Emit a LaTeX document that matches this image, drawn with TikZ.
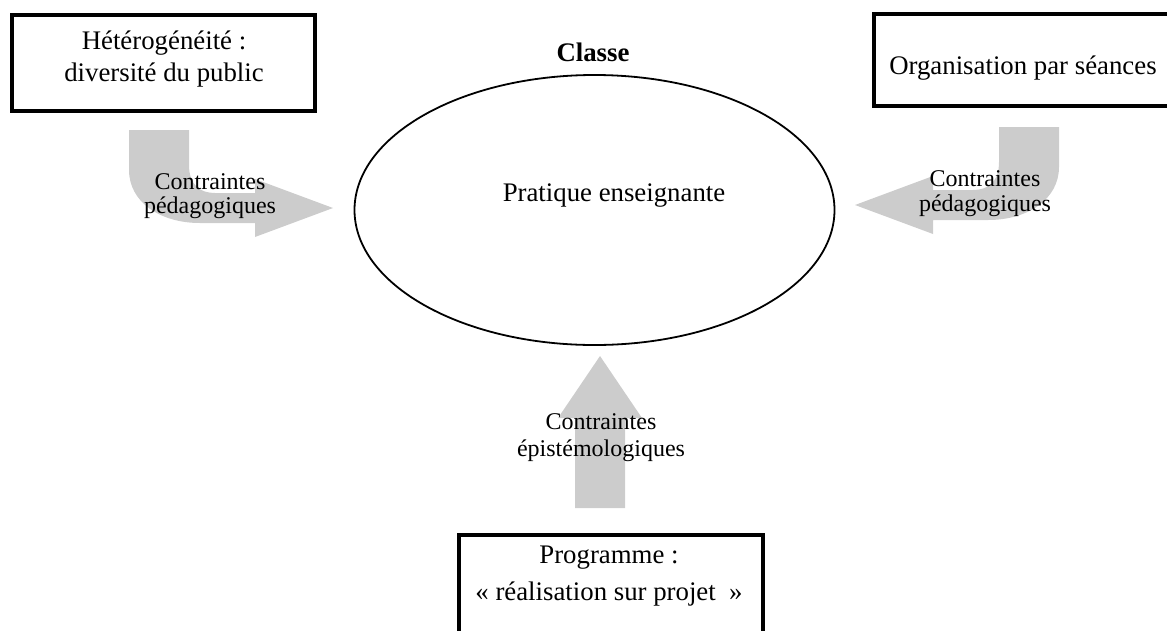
\documentclass[tikz,border=0pt]{standalone}
\usepackage{fontspec}
\setmainfont{Liberation Serif}
\usetikzlibrary{shapes.geometric}
\definecolor{arrowgray}{RGB}{204,204,204}
\begin{document}
\begin{tikzpicture}[x=1pt,y=-1pt,
  frame/.style={draw=black, line width=4pt, rectangle, inner sep=0pt},
  bigtxt/.style={font=\fontsize{26.8}{32}\selectfont, inner sep=0pt, align=center},
  smalltxt/.style={font=\fontsize{24}{25}\selectfont, inner sep=0pt, align=center},
  blockarrow/.style={fill=arrowgray, draw=none}]
\useasboundingbox (0,0) rectangle (1167,630);
\clip (0,0) rectangle (1167,630);

% boxes
\node[frame, minimum width=303pt, minimum height=96pt] (hetbox) at (163.5,63) {};
\node[frame, minimum width=301pt, minimum height=92pt] (orgbox) at (1024.5,60) {};
\node[frame, minimum width=304pt, minimum height=110pt] (progbox) at (611,590) {};

% ellipse
\node[draw=black, line width=1.8pt, ellipse, inner sep=0pt,
      minimum width=480pt, minimum height=270pt] (classe) at (594.5,210) {};

% block arrows
\path[blockarrow] (129,130) -- (129,170) .. controls (129,202) and (160,223) .. (200,223)
  -- (255,223) -- (255,237) -- (333,208) -- (255,179) -- (255,193) -- (215,193)
  .. controls (200,193) and (189,185) .. (189,165) -- (189,130) -- cycle;
\path[blockarrow] (1059,127) -- (1059,167) .. controls (1059,199) and (1028,220) .. (988,220)
  -- (933,220) -- (933,234) -- (855,205) -- (933,176) -- (933,190) -- (973,190)
  .. controls (988,190) and (999,182) .. (999,162) -- (999,127) -- cycle;
\path[blockarrow] (575,508) -- (575,418) -- (558,418) -- (600,356) -- (642,418)
  -- (625,418) -- (625,508) -- cycle;

% texts
\node[bigtxt, font=\fontsize{26.8}{32}\selectfont] (hettxt) at (164,59) {Hétérogénéité :\\diversité du public};
\node[bigtxt] (orgtxt) at (1023,68) {Organisation par séances};
\node[bigtxt, font=\fontsize{26.8}{37}\selectfont] (progtxt) at (609,576) {Programme :\\« réalisation sur projet ~»};
\node[bigtxt, font=\bfseries\fontsize{26.8}{32}\selectfont] (classetxt) at (593,52) {Classe};
\node[bigtxt] (pratique) at (614,196) {Pratique enseignante};
\node[smalltxt, font=\fontsize{24}{24}\selectfont] (lbl1) at (210,196) {Contraintes\\pédagogiques};
\node[smalltxt] (lbl2) at (985,194) {Contraintes\\pédagogiques};
\node[smalltxt, font=\fontsize{24}{27}\selectfont] (lbl3) at (601,438) {Contraintes\\épistémologiques};
\end{tikzpicture}
\end{document}
